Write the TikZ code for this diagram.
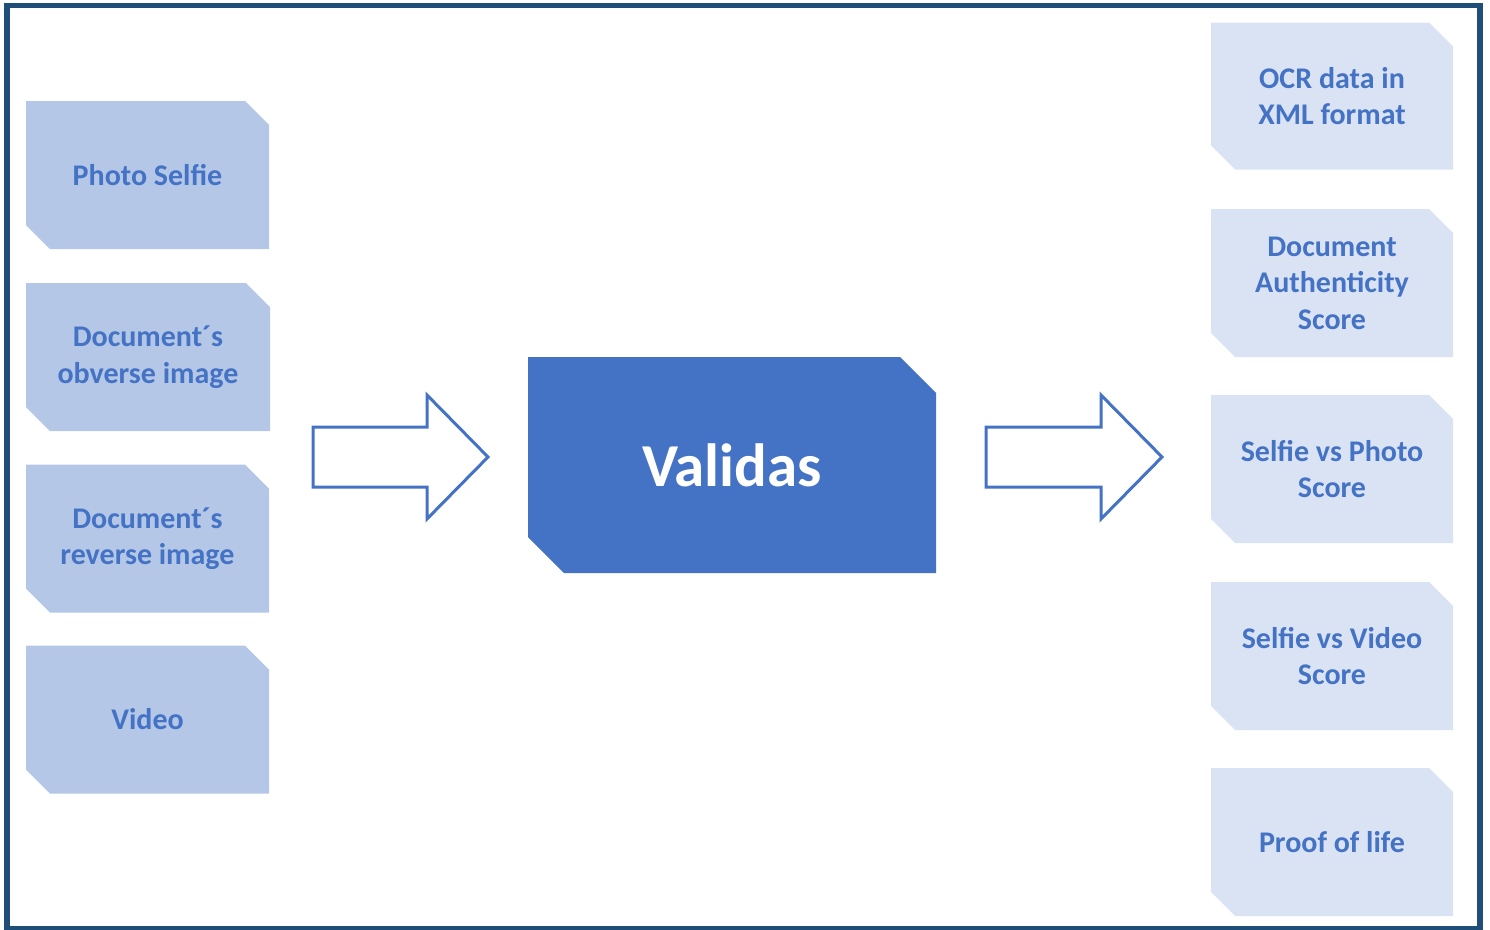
\documentclass[tikz,border=0pt]{standalone}
\usepackage{fontspec}
\setmainfont{Carlito}
\definecolor{cFrame}{HTML}{1F4E79}
\definecolor{cAccent}{HTML}{4472C4}
\definecolor{cIn}{HTML}{B4C7E7}
\definecolor{cOut}{HTML}{DAE3F3}
\begin{document}
\begin{tikzpicture}[x=1pt,y=-1pt,
  chamfer/.store in=\chamfsize, chamfer=24pt,
  boxfill/.store in=\boxfillcol, boxfill=cIn,
  cutbox/.style={rectangle, inner sep=0pt, align=center, chamfer=24pt,
    path picture={\fill[\boxfillcol]
      (path picture bounding box.north west)
      -- ([xshift=-\chamfsize]path picture bounding box.north east)
      -- ([yshift=-\chamfsize]path picture bounding box.north east)
      -- (path picture bounding box.south east)
      -- ([xshift=\chamfsize]path picture bounding box.south west)
      -- ([yshift=\chamfsize]path picture bounding box.south west)
      -- cycle;}},
  inbox/.style={cutbox, boxfill=cIn, minimum width=243pt, minimum height=148pt,
    text=cAccent, font=\fontsize{30pt}{36.5pt}\selectfont\bfseries},
  outbox/.style={cutbox, boxfill=cOut, minimum width=242pt, minimum height=147pt,
    text=cAccent, font=\fontsize{30pt}{36.5pt}\selectfont\bfseries},
  mainbox/.style={cutbox, boxfill=cAccent, chamfer=36pt, minimum width=408pt, minimum height=216pt,
    text=white, font=\fontsize{61pt}{66pt}\selectfont\bfseries},
  blockarrow/.style={draw=cAccent, line width=3pt, line join=miter, fill=white}
]
\useasboundingbox (0,0) rectangle (1490,929);
\draw[cFrame, line width=5.5pt] (7,5.5) rectangle (1480,928.5);

% inputs
\node[inbox] (in1) at (147.5,175) {Photo Selfie};
\node[inbox, minimum width=244pt] (in2) at (148,357) {\raisebox{-2pt}{\parbox{240pt}{\centering Document´s\\obverse image}}};
\node[inbox] (in3) at (147.5,538.5) {\raisebox{-2pt}{\parbox{240pt}{\centering Document´s\\reverse image}}};
\node[inbox] (in4) at (147.5,719.5) {Video};

% central
\node[mainbox] (val) at (732,465) {Validas};

% outputs
\node[outbox] (out1) at (1332,96) {OCR data in\\XML format};
\node[outbox, minimum height=148pt] (out2) at (1332,283) {Document\\Authenticity\\Score};
\node[outbox, minimum height=148pt] (out3) at (1332,469) {Selfie vs Photo\\Score};
\node[outbox, minimum height=148pt] (out4) at (1332,656) {Selfie vs Video\\Score};
\node[outbox, minimum height=148pt] (out5) at (1332,842) {Proof of life};

% block arrows
\coordinate (a1) at (313,457);
\coordinate (a2) at (986,457);
\draw[blockarrow] (a1) ++(0,-30) -- ++(114,0) -- ++(0,-32) -- ++(61,62)
  -- ++(-61,62) -- ++(0,-32) -- ++(-114,0) -- cycle;
\draw[blockarrow] (a2) ++(0,-30) -- ++(115,0) -- ++(0,-32) -- ++(61,62)
  -- ++(-61,62) -- ++(0,-32) -- ++(-115,0) -- cycle;
\end{tikzpicture}
\end{document}
